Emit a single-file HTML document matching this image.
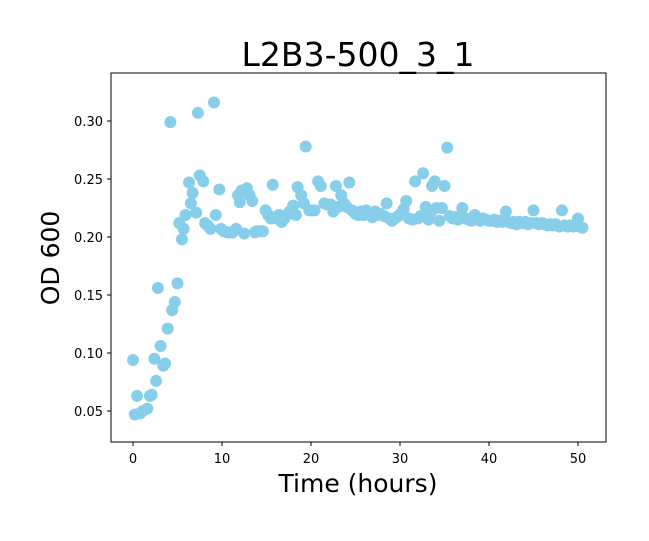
<!DOCTYPE html>
<html><head><meta charset="utf-8"><style>
html,body{margin:0;padding:0;background:#fff;}
svg text{font-family:"DejaVu Sans","Liberation Sans",sans-serif;fill:#000;}
</style></head><body>
<svg id="chart" width="649" height="536" viewBox="0 0 649 536" xmlns="http://www.w3.org/2000/svg">
<rect x="0" y="0" width="649" height="536" fill="#fff"/>
<text x="358" y="66" font-size="33" text-anchor="middle">L2B3-500_3_1</text>
<g id="marks"></g>
<rect x="111" y="73" width="495" height="369" fill="none" stroke="#000" stroke-width="1"/>
<g id="xticks"></g>
<g id="yticks"></g>
<text x="358" y="492" font-size="25" text-anchor="middle">Time (hours)</text>
<text x="0" y="0" font-size="25" text-anchor="middle" transform="translate(59,258) rotate(-90)">OD 600</text>
</svg>
<script>
const xTicks=[0,10,20,30,40,50];
const yTicks=[0.05,0.10,0.15,0.20,0.25,0.30];
const yTickLabels=["0.05","0.10","0.15","0.20","0.25","0.30"];
const hours=[0,0.2,0.45,0.8,1.1,1.6,1.9,2.1,2.4,2.6,2.8,3.1,3.4,3.6,3.9,4.2,4.4,4.7,5.0,5.2,5.5,5.7,5.9,6.3,6.5,6.7,7.1,7.3,7.5,7.9,8.1,8.4,8.7,9.1,9.3,9.7,9.9,10.2,10.6,10.9,11.2,11.6,11.8,12.0,12.2,12.5,12.8,13.1,13.4,13.7,13.9,14.3,14.6,14.9,15.2,15.5,15.7,16.1,16.4,16.7,17.0,17.3,17.6,18.0,18.3,18.5,18.9,19.2,19.4,19.8,20.1,20.4,20.8,21.1,21.5,
21.8,22.2,22.5,22.8,23.1,23.4,23.7,24.0,24.3,24.6,25.0,25.3,25.6,25.9,26.2,26.6,26.9,27.2,27.5,27.8,28.2,28.5,28.8,29.1,29.4,29.8,30.1,30.4,30.7,31.0,31.4,31.7,32.0,32.3,32.6,32.9,33.2,33.5,33.6,33.9,34.1,34.4,34.7,35.0,35.3,35.6,35.9,36.2,36.5,36.8,37.0,37.4,37.7,38.0,38.4,38.7,39.0,39.3,39.6,40.0,40.3,40.6,40.9,41.2,41.5,41.9,42.2,42.5,42.8,43.1,43.4,43.8,44.1,44.4,44.7,45.0,45.3,45.6,46.0,46.3,46.6,46.9,47.2,47.5,47.9,48.2,48.5,48.8,49.1,49.5,49.8,50.0,50.2,50.5];
const od=[0.094,0.047,0.063,0.048,0.050,0.052,0.063,0.064,0.095,0.076,0.156,0.106,0.089,0.091,0.121,0.299,0.137,0.144,0.160,0.212,0.198,0.207,0.219,0.247,0.229,0.238,0.221,0.307,0.253,0.248,0.212,0.210,0.207,0.316,0.219,0.241,0.207,0.205,0.204,0.204,0.204,0.207,0.236,0.230,0.240,0.203,0.242,0.236,0.231,0.204,0.205,0.205,0.205,0.223,0.219,0.216,0.245,0.216,0.219,0.213,0.216,0.219,0.222,0.227,0.219,0.243,0.236,0.229,0.278,0.223,0.223,0.223,0.248,0.244,0.229,
0.228,0.228,0.222,0.244,0.226,0.236,0.229,0.226,0.247,0.223,0.220,0.219,0.222,0.219,0.223,0.220,0.217,0.222,0.219,0.220,0.218,0.229,0.216,0.214,0.216,0.218,0.220,0.224,0.231,0.216,0.215,0.248,0.216,0.218,0.255,0.226,0.215,0.222,0.244,0.248,0.225,0.214,0.225,0.244,0.277,0.218,0.216,0.217,0.215,0.218,0.225,0.216,0.215,0.214,0.219,0.215,0.214,0.216,0.215,0.214,0.214,0.215,0.213,0.214,0.213,0.222,0.213,0.212,0.213,0.211,0.213,0.212,0.213,0.211,0.212,0.223,0.212,0.211,0.212,0.211,0.210,0.211,0.210,0.211,0.209,0.223,0.210,0.209,0.210,0.209,0.210,0.216,0.209,0.208];

const NS="http://www.w3.org/2000/svg";
function xs(h){return 133+(h-0)*(578-133)/50;}
function ys(v){return 411-(v-0.05)*(411-121)/0.25;}
const marks=document.getElementById('marks');
for(let i=0;i<hours.length;i++){
  const c=document.createElementNS(NS,'circle');
  c.setAttribute('cx',xs(hours[i]));c.setAttribute('cy',ys(od[i]));c.setAttribute('r',6);
  c.setAttribute('fill','#87ceeb');
  
  
  marks.appendChild(c);
}
const xg=document.getElementById('xticks');
xTicks.forEach(t=>{
  const l=document.createElementNS(NS,'line');
  l.setAttribute('x1',xs(t));l.setAttribute('x2',xs(t));l.setAttribute('y1',442);l.setAttribute('y2',446);l.setAttribute('stroke','#000');
  
  
  xg.appendChild(l);
  const tx=document.createElementNS(NS,'text');
  tx.setAttribute('x',xs(t));tx.setAttribute('y',463);tx.setAttribute('font-size','13');tx.setAttribute('text-anchor','middle');
  tx.textContent=String(t);
  
  
  xg.appendChild(tx);
});
const yg=document.getElementById('yticks');
yTicks.forEach((t,i)=>{
  const l=document.createElementNS(NS,'line');
  l.setAttribute('x1',107);l.setAttribute('x2',111);l.setAttribute('y1',ys(t));l.setAttribute('y2',ys(t));l.setAttribute('stroke','#000');
  
  
  yg.appendChild(l);
  const tx=document.createElementNS(NS,'text');
  tx.setAttribute('x',103);tx.setAttribute('y',ys(t)+5);tx.setAttribute('font-size','13');tx.setAttribute('text-anchor','end');
  tx.textContent=yTickLabels[i];
  
  
  yg.appendChild(tx);
});
</script>
</body></html>
